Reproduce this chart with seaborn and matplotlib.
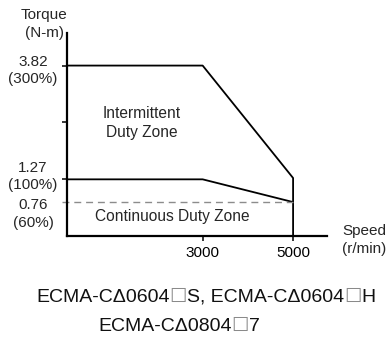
import matplotlib
matplotlib.use("Agg")
import matplotlib.pyplot as plt
import seaborn as sns
import pandas as pd

# Torque-speed envelope (speed in r/min, torque in N-m)
intermittent_speed = [0, 3000, 5000, 5000]
intermittent_torque = [3.82, 3.82, 1.30, 0.0]
continuous_speed = [0, 3000, 5000]
continuous_torque = [1.27, 1.27, 0.76]

continuous_floor = 0.76
rated_max_speed = 5000

y_ticks = [3.82, 2.545, 1.27]
y_labels = {3.82: "3.82\n(300%)", 1.27: "1.27\n(100%)", 0.76: "0.76\n(60%)"}
x_ticks = [3000, 5000]
x_labels = ["3000", "5000"]

zone_labels = ["Intermittent\nDuty Zone", "Continuous Duty Zone"]
BOX = "\u2610"
model_lines = [
    ["ECMA-C\u03940604", BOX, "S, ECMA-C\u03940604", BOX, "H"],
    ["ECMA-C\u03940804", BOX, "7"],
]

sns.set_theme(style="white")
plt.rcParams["font.family"] = ["Liberation Sans", "DejaVu Sans"]

W, H = 390, 338
fig = plt.figure(figsize=(W / 100, H / 100), dpi=100)
# axes box in pixel terms: y-axis at x=67, x-axis at y=236
ax = fig.add_axes([67 / W, (H - 236) / H, (327 - 67) / W, (236 - 33) / H])
ax.set_xlim(0, 5750)
ax.set_ylim(0, 4.55)

df_int = pd.DataFrame({"speed": intermittent_speed, "torque": intermittent_torque})
df_con = pd.DataFrame({"speed": continuous_speed, "torque": continuous_torque})
sns.lineplot(data=df_int, x="speed", y="torque", sort=False, estimator=None,
             color="black", linewidth=1.3, ax=ax)
sns.lineplot(data=df_con, x="speed", y="torque", sort=False, estimator=None,
             color="black", linewidth=1.3, ax=ax)

# dashed 60% line, starting a little left of the axis like a tick
ax.plot([-110, rated_max_speed], [continuous_floor, continuous_floor],
        color="#8c8c8c", linewidth=1.0, linestyle=(0, (5, 3.5)), clip_on=False)

for side in ("top", "right"):
    ax.spines[side].set_visible(False)
for side in ("left", "bottom"):
    ax.spines[side].set_color("black")
    ax.spines[side].set_linewidth(1.6)

ax.set_yticks(y_ticks)
ax.set_yticklabels([])
ax.set_xticks(x_ticks)
ax.set_xticklabels(x_labels, fontsize=11, color="black")
ax.tick_params(axis="both", direction="out", length=3.6, width=1.1, color="black",
               left=True, bottom=True)
ax.tick_params(axis="x", pad=3.5)
ax.set_xlabel("")
ax.set_ylabel("")

# torque labels to the left of the axis
offsets = {3.82: -5, 1.27: 3, 0.76: -12}
for val, txt in y_labels.items():
    ax.annotate(txt, xy=(0, val), xycoords="data", xytext=(-34, offsets[val]),
                textcoords="offset pixels", ha="center", va="center",
                fontsize=11, linespacing=1.3, annotation_clip=False)

ax.annotate(zone_labels[0], xy=(142 / W, 1 - 123 / H), xycoords="figure fraction",
            ha="center", va="center", fontsize=11.2, linespacing=1.3)
ax.annotate(zone_labels[1], xy=(172 / W, 1 - 216 / H), xycoords="figure fraction",
            ha="center", va="center", fontsize=11.2)

fig.text(44 / W, 1 - 24 / H, "Torque\n(N-m)", ha="center", va="center",
         fontsize=11, linespacing=1.3)
fig.text(364 / W, 1 - 240 / H, "Speed\n(r/min)", ha="center", va="center",
         fontsize=11, linespacing=1.3)


def centered_run(pieces, cx, baseline, size):
    """Lay out text pieces side by side on one baseline, centred on cx (pixels);
    the placeholder boxes are drawn in grey."""
    renderer = fig.canvas.get_renderer()
    items = []
    for s in pieces:
        col = "#8a8a8a" if s == BOX else "#111111"
        t = fig.text(0, 1 - baseline / H, s, ha="left", va="baseline",
                     fontsize=size, color=col)
        items.append(t)
    widths = [t.get_window_extent(renderer).width for t in items]
    x = cx - sum(widths) / 2
    for t, w in zip(items, widths):
        t.set_x(x / W)
        x += w


centered_run(model_lines[0], 206, 302, 14)
centered_run(model_lines[1], 179, 331, 14)

fig.savefig("out.png", dpi=100, facecolor="white")
